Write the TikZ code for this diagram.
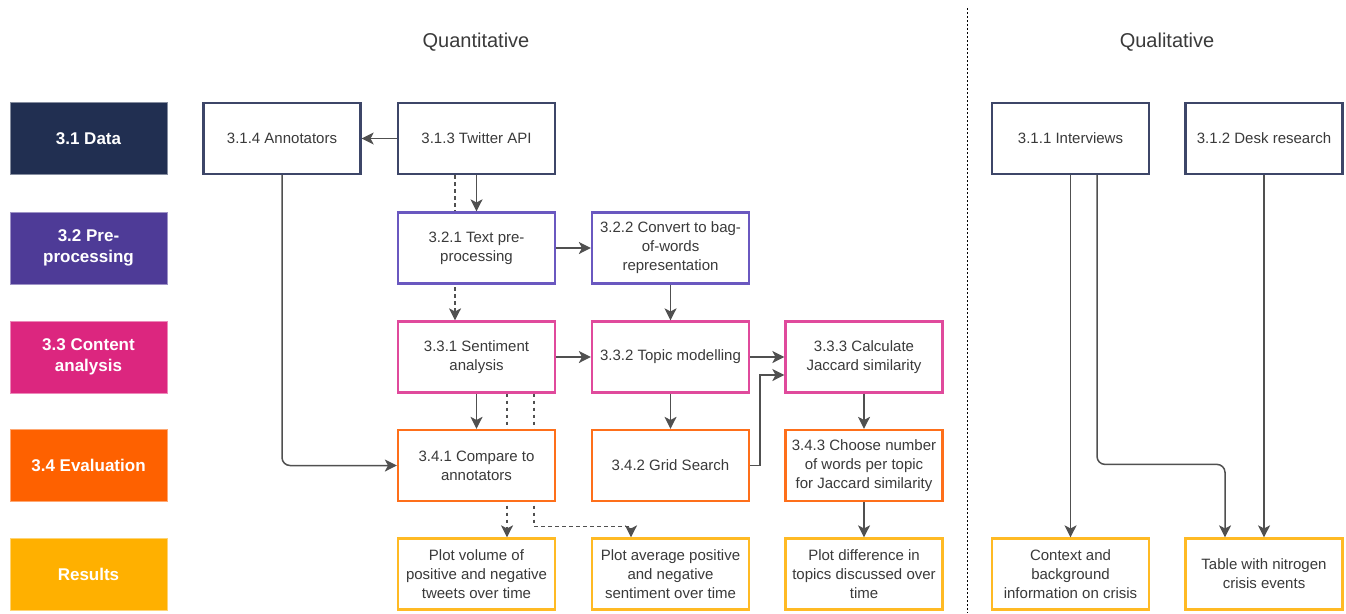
\documentclass[tikz,border=0pt]{standalone}
\usepackage{fontspec}
\setmainfont{Liberation Sans}
\usetikzlibrary{arrows.meta,backgrounds,calc}
\definecolor{cdata}{HTML}{212F51}
\definecolor{cpre}{HTML}{4E3B97}
\definecolor{ccont}{HTML}{DC267F}
\definecolor{ceval}{HTML}{FE6100}
\definecolor{cres}{HTML}{FFB000}
\definecolor{bdata}{HTML}{3D4668}
\definecolor{bpre}{HTML}{6A58C0}
\definecolor{bcont}{HTML}{E04A9C}
\definecolor{beval}{HTML}{FE6F1A}
\definecolor{bres}{HTML}{FFBA24}
\definecolor{txt}{HTML}{3A3A3A}
\definecolor{conn}{HTML}{505050}
\begin{document}
\begin{tikzpicture}[x=1pt,y=-1pt,
  box/.style={draw, line width=2.2pt, fill=white, minimum width=157pt, minimum height=71pt,
    inner sep=0pt, align=center, text=txt, font=\fontsize{15}{19}\selectfont},
  lab/.style={draw=#1!55!white, line width=0.8pt, fill=#1, minimum width=157pt, minimum height=72pt,
    inner sep=0pt, align=center, text=white, font=\fontsize{17}{21}\selectfont\bfseries},
  ttl/.style={text=txt, font=\fontsize{20}{24}\selectfont},
  arr/.style={draw=conn, line width=1.5pt, -{Stealth[length=12pt,width=12pt,inset=3pt]}},
  dsh/.style={arr, dash pattern=on 3.5pt off 3.5pt},
]
\useasboundingbox (0,0) rectangle (1346,613);

% titles
\node[ttl] (tq) at (476,42) {Quantitative};
\node[ttl] (tql) at (1167,42) {Qualitative};

% left labels
\node[lab=cdata] (l1) at (88.5,138.5) {3.1 Data};
\node[lab=cpre]  (l2) at (88.5,248) {3.2 Pre-\\processing};
\node[lab=ccont] (l3) at (88.5,357) {3.3 Content\\analysis};
\node[lab=ceval] (l4) at (88.5,465.5) {3.4 Evaluation};
\node[lab=cres]  (l5) at (88.5,574) {Results};

% row 1
\node[box, draw=bdata] (annot) at (282,138.5) {3.1.4 Annotators};
\node[box, draw=bdata] (twit) at (476.5,138.5) {3.1.3 Twitter API};
% row 2
\node[box, draw=bpre] (tp) at (476.5,248) {3.2.1 Text pre-\\processing};
\node[box, draw=bpre] (bow) at (670.5,248) {3.2.2 Convert to bag-\\of-words\\representation};
% row 3
\node[box, draw=bcont] (sent) at (476.5,357) {3.3.1 Sentiment\\analysis};
\node[box, draw=bcont] (topic) at (670.5,357) {3.3.2 Topic modelling};
\node[box, draw=bcont] (jac) at (864,357) {3.3.3 Calculate\\Jaccard similarity};
% row 4
\node[box, draw=beval] (cmp) at (476.5,465.5) {3.4.1 Compare to\\annotators};
\node[box, draw=beval] (grid) at (670.5,465.5) {3.4.2 Grid Search};
\node[box, draw=beval] (choose) at (864,465.5) {3.4.3 Choose number\\of words per topic\\for Jaccard similarity};
% row 5
\node[box, draw=bres] (pvol) at (476.5,574) {Plot volume of\\positive and negative\\tweets over time};
\node[box, draw=bres] (pavg) at (670.5,574) {Plot average positive\\and negative\\sentiment over time};
\node[box, draw=bres] (pdiff) at (864,574) {Plot difference in\\topics discussed over\\time};

% qualitative
\node[box, draw=bdata] (int) at (1070.5,138.5) {3.1.1 Interviews};
\node[box, draw=bdata] (desk) at (1264,138.5) {3.1.2 Desk research};
\node[box, draw=bres] (ctx) at (1070.5,574) {Context and\\background\\information on crisis};
\node[box, draw=bres] (tab) at (1264,574) {Table with nitrogen\\crisis events};

% divider
\coordinate (dvt) at (967,8);
\coordinate (dvb) at (967,613);
\draw[black, line width=0.9pt, dash pattern=on 2pt off 2pt] (dvt) -- (dvb);

\begin{pgfonlayer}{background}
\draw[dsh] ($(twit.south)+(-21.5,0)$) -- ($(sent.north)+(-21.5,0)$);
\draw[dsh] ($(sent.south)+(30.5,0)$) -- ($(pvol.north)+(30.5,0)$);
\draw[dsh] ($(sent.south)+(57.5,0)$) |- ($(pavg.north)+(-39.5,-11)$) -- ($(pavg.north)+(-39.5,0)$);
\draw[arr, rounded corners=8pt] (annot.south) |- (cmp.west);
\end{pgfonlayer}

\draw[arr] (twit.west) -- (annot.east);
\draw[arr] (twit.south) -- (tp.north);
\draw[arr] (tp.east) -- (bow.west);
\draw[arr] (bow.south) -- (topic.north);
\draw[arr] (sent.east) -- (topic.west);
\draw[arr] (topic.east) -- (jac.west);
\draw[arr] (grid.east) -- ++(10,0) |- ($(jac.west)+(0,18)$);
\draw[arr] (sent.south) -- (cmp.north);
\draw[arr] (topic.south) -- (grid.north);
\draw[arr] (jac.south) -- (choose.north);
\draw[arr] (choose.south) -- (pdiff.north);

\draw[arr] (int.south) -- (ctx.north);
\draw[arr, rounded corners=8pt] ($(int.south)+(26.5,0)$) |- ($(tab.north)+(-39,-73)$) -- ($(tab.north)+(-39,0)$);
\draw[arr] (desk.south) -- (tab.north);
\end{tikzpicture}
\end{document}
